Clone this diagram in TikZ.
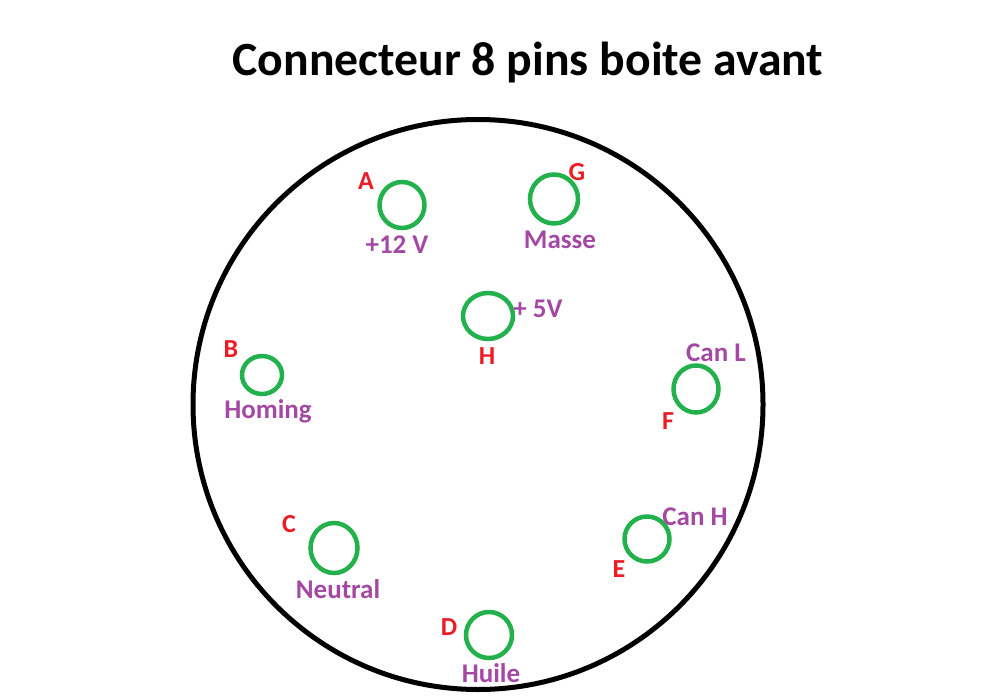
\documentclass[tikz,border=0pt]{standalone}
\usepackage{fontspec}
\setmainfont{Carlito}
\definecolor{pingreen}{RGB}{34,177,76}
\definecolor{pinred}{RGB}{237,28,36}
\definecolor{pinpurple}{RGB}{163,73,164}
\usetikzlibrary{shapes.geometric}
\tikzset{
    pinlabel/.style={text=pinred,font=\fontsize{26pt}{26pt}\selectfont\bfseries,inner sep=0pt},
    signallabel/.style={text=pinpurple,font=\fontsize{27pt}{27pt}\selectfont\bfseries,inner sep=0pt},
    pincircle/.style={draw=pingreen,line width=4.5pt,ellipse,inner sep=0pt}
}
\begin{document}
\begin{tikzpicture}[x=1pt,y=-1pt]
            \useasboundingbox (0,0) rectangle (1000,700);
            \node[font=\fontsize{47.7pt}{47.7pt}\selectfont\bfseries,inner sep=0pt] (title) at (528,63) {Connecteur 8 pins boite avant};
            \node[draw,line width=5pt,ellipse,inner sep=0pt,minimum width=570pt,minimum height=570pt] (body) at (478,404.5) {};
            % pins
            \node[pincircle,minimum width=45pt,minimum height=46pt] (pinA) at (402,205) {};
            \node[pincircle,minimum width=48pt,minimum height=49pt] (pinG) at (554,199) {};
            \node[pincircle,minimum width=50pt,minimum height=46pt] (pinH) at (488,316) {};
            \node[pincircle,minimum width=40pt,minimum height=38pt] (pinB) at (262,375) {};
            \node[pincircle,minimum width=45pt,minimum height=47pt] (pinF) at (696,389) {};
            \node[pincircle,minimum width=45pt,minimum height=45pt] (pinE) at (647,539) {};
            \node[pincircle,minimum width=47pt,minimum height=50pt] (pinC) at (334,548) {};
            \node[pincircle,minimum width=46pt,minimum height=46pt] (pinD) at (489,635) {};
            % letters
            \node[pinlabel] (letA) at (366,181) {A};
            \node[pinlabel] (letG) at (577,172) {G};
            \node[pinlabel] (letH) at (487,356) {H};
            \node[pinlabel] (letB) at (231,349) {B};
            \node[pinlabel] (letF) at (668,421) {F};
            \node[pinlabel] (letE) at (619,569) {E};
            \node[pinlabel] (letC) at (289,524) {C};
            \node[pinlabel] (letD) at (449,627) {D};
            % signals
            \node[signallabel] (sigA) at (397,245) {+12 V};
            \node[signallabel] (sigG) at (560,240) {Masse};
            \node[signallabel] (sigH) at (538,309) {+ 5V};
            \node[signallabel] (sigB) at (268,411) {Homing};
            \node[signallabel] (sigF) at (716,353) {Can L};
            \node[signallabel] (sigE) at (695,517) {Can H};
            \node[signallabel] (sigC) at (338,589) {Neutral};
            \node[signallabel] (sigD) at (491,673) {Huile};
        \end{tikzpicture}
\end{document}
